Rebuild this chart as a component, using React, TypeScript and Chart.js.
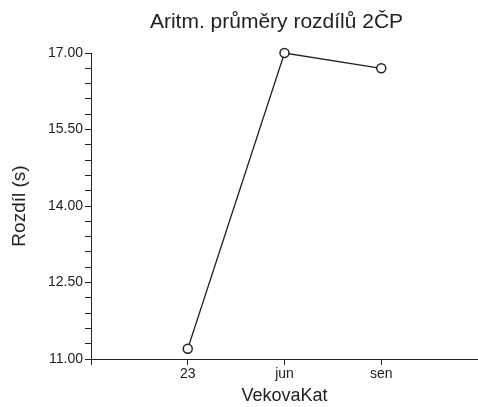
import React, { useEffect, useRef } from "react";
import { Chart, registerables } from "chart.js";

Chart.register(...registerables);

// Age categories and mean differences (seconds)
const categories: string[] = ["23", "jun", "sen"];
const meanDiffs: number[] = [11.2, 17.0, 16.7];

// Value axis range and tick layout
const yMin = 11;
const yMax = 17;
const yMinorStep = 0.3;
const yMajorEvery = 5; // label every 5th tick -> 1.50 spacing

const chartTitle = "Aritm. průměry rozdílů 2ČP";
const xTitle = "VekovaKat";
const yTitle = "Rozdíl (s)";

const FONT = "'Liberation Sans', Arial, Helvetica, sans-serif";
const INK = "#222";

const titlePlugin = {
  id: "plainTitle",
  afterDraw(chart: Chart) {
    const { ctx, chartArea } = chart;
    ctx.save();
    ctx.font = `21px ${FONT}`;
    ctx.fillStyle = INK;
    ctx.textAlign = "center";
    ctx.textBaseline = "alphabetic";
    ctx.fillText(chartTitle, (chartArea.left + chartArea.right) / 2 - 8, 27.5);
    ctx.restore();
  },
};

export default function App() {
  const canvasRef = useRef<HTMLCanvasElement | null>(null);

  useEffect(() => {
    const canvas = canvasRef.current;
    if (!canvas) return;

    const points = meanDiffs.map((v, i) => ({ x: i + 1, y: v }));
    const yTickCount = Math.round((yMax - yMin) / yMinorStep);

    const chart = new Chart(canvas, {
      type: "line",
      data: {
        datasets: [
          {
            data: points,
            borderColor: "#222",
            borderWidth: 1.3,
            pointStyle: "circle",
            pointRadius: 4.5,
            pointBorderWidth: 1.5,
            pointBorderColor: "#222",
            pointBackgroundColor: "#fff",
            tension: 0,
            clip: false,
          },
        ],
      },
      options: {
        responsive: false,
        animation: false,
        layout: { autoPadding: false, padding: { top: 53, right: 0, bottom: 0, left: 0 } },
        plugins: {
          legend: { display: false },
          title: { display: false },
          tooltip: { enabled: false },
        },
        scales: {
          x: {
            type: "linear",
            min: 0,
            max: categories.length + 1,
            afterBuildTicks: (scale: any) => {
              scale.ticks = [0, ...categories.map((_, i) => i + 1)].map((value) => ({ value }));
            },
            afterFit: (scale: any) => {
              scale.height = 48;
            },
            ticks: {
              autoSkip: false,
              maxRotation: 0,
              padding: 1,
              color: INK,
              font: { family: FONT, size: 14 },
              callback: (value: any) => {
                const idx = Number(value) - 1;
                return categories[idx] ?? "";
              },
            },
            grid: {
              drawOnChartArea: false,
              drawTicks: true,
              tickLength: 6,
              color: INK,
            },
            border: { display: true, color: INK, width: 1 },
            title: {
              display: true,
              text: xTitle,
              color: INK,
              font: { family: FONT, size: 18 },
              padding: { top: 0, bottom: 0 },
            },
          },
          y: {
            type: "linear",
            min: yMin,
            max: yMax,
            afterBuildTicks: (scale: any) => {
              const ticks = [];
              for (let i = 0; i <= yTickCount; i++) {
                ticks.push({ value: +(yMin + i * yMinorStep).toFixed(2) });
              }
              scale.ticks = ticks;
            },
            afterFit: (scale: any) => {
              scale.width = 91;
            },
            ticks: {
              autoSkip: false,
              padding: 2,
              color: INK,
              font: { family: FONT, size: 14 },
              callback: (value: any, index: number) =>
                index % yMajorEvery === 0 ? Number(value).toFixed(2) : "",
            },
            grid: {
              drawOnChartArea: false,
              drawTicks: true,
              tickLength: 6,
              color: INK,
            },
            border: { display: true, color: INK, width: 1 },
            title: {
              display: true,
              text: yTitle,
              color: INK,
              font: { family: FONT, size: 19 },
              padding: { top: 8, bottom: 0 },
            },
          },
        },
      },
      plugins: [titlePlugin],
    });

    return () => chart.destroy();
  }, []);

  return (
    <div style={{ position: "absolute", top: 0, left: 0, width: 478, height: 407, background: "#fff" }}>
      <canvas ref={canvasRef} width={478} height={407} />
    </div>
  );
}
